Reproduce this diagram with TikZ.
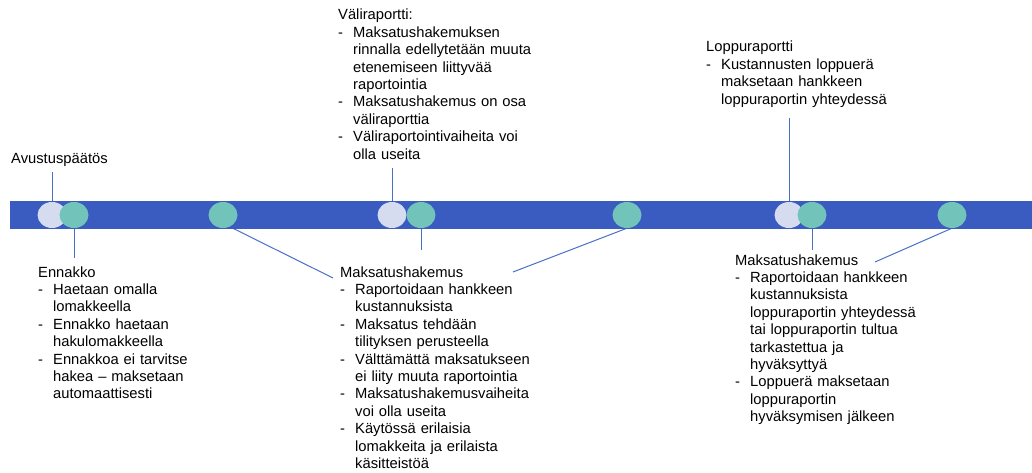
\documentclass[tikz,border=0pt]{standalone}
\usepackage{fontspec}
\setmainfont{Liberation Sans}
\usepackage{tikz}
\usetikzlibrary{shapes.geometric,positioning,backgrounds}
\definecolor{bandblue}{RGB}{58,91,192}
\definecolor{dotgreen}{RGB}{114,196,186}
\definecolor{dotlight}{RGB}{213,220,240}
\definecolor{linkblue}{RGB}{72,112,200}

% luettelon rivi: viiva ja riippuva sisennys
\newcommand{\itm}{\par\hangindent=15pt\hangafter=1\noindent\makebox[15pt][l]{-}}

\tikzset{
  dot/.style={ellipse, minimum width=29pt, minimum height=26pt, inner sep=0pt},
  lightdot/.style={dot, fill=dotlight},
  greendot/.style={dot, fill=dotgreen},
  txt/.style={anchor=base west, inner sep=0pt, text width=250pt, align=left,
    font=\fontsize{14.75}{17.4}\selectfont},
  link/.style={linkblue, line width=1pt}
}

\begin{document}
\begin{tikzpicture}[x=1pt, y=-1pt]
  \useasboundingbox (0,0) rectangle (1032,473);
  % Pallot aikajanalla
  \node[lightdot] (avu) at (52,215) {};
  \node[greendot] (enn) at (74,215) {};
  \node[greendot] (mh1) at (223,215) {};
  \node[lightdot] (vali) at (392,215) {};
  \node[greendot] (mh2) at (421,215) {};
  \node[greendot] (mh3) at (627,215) {};
  \node[lightdot] (lop) at (789,215) {};
  \node[greendot] (mh4) at (812,215) {};
  \node[greendot] (mh5) at (952,215) {};
  % Tekstit
  \node[txt] (avutxt) at (11,164) {Avustuspäätös};
  \node[txt] (enntxt) at (38,277) {Ennakko
    \itm Haetaan omalla\newline lomakkeella
    \itm Ennakko haetaan\newline hakulomakkeella
    \itm Ennakkoa ei tarvitse\newline hakea – maksetaan\newline automaattisesti\par};
  \node[txt] (valitxt) at (338,20) {Väliraportti:
    \itm Maksatushakemuksen\newline rinnalla edellytetään muuta\newline etenemiseen liittyvää\newline raportointia
    \itm Maksatushakemus on osa\newline väliraporttia
    \itm Väliraportointivaiheita voi\newline olla useita\par};
  \node[txt] (mhtxt) at (340,277) {Maksatushakemus
    \itm Raportoidaan hankkeen\newline kustannuksista
    \itm Maksatus tehdään\newline tilityksen perusteella
    \itm Välttämättä maksatukseen\newline ei liity muuta raportointia
    \itm Maksatushakemusvaiheita\newline voi olla useita
    \itm Käytössä erilaisia\newline lomakkeita ja erilaista\newline käsitteistöä\par};
  \node[txt] (loptxt) at (706,52) {Loppuraportti
    \itm Kustannusten loppuerä\newline maksetaan hankkeen\newline loppuraportin yhteydessä\par};
  \node[txt] (mhlast) at (735,265) {Maksatushakemus
    \itm Raportoidaan hankkeen\newline kustannuksista\newline loppuraportin yhteydessä\newline tai loppuraportin tultua\newline tarkastettua ja\newline hyväksyttyä
    \itm Loppuerä maksetaan\newline loppuraportin\newline hyväksymisen jälkeen\par};
  % Viivojen vapaat päät
  \coordinate (avuend) at (52,172);
  \coordinate (ennend) at (74,258);
  \coordinate (valiend) at (392,168);
  \coordinate (mh1end) at (333,278);
  \coordinate (mh2end) at (421,250);
  \coordinate (mh3end) at (513,272);
  \coordinate (lopend) at (789,118);
  \coordinate (mh4end) at (812,250);
  \coordinate (mh5end) at (875,262);
  \begin{pgfonlayer}{background}
    % Yhdysviivat
    \draw[link] (avuend) -- (avu);
    \draw[link] (enn) -- (ennend);
    \draw[link] (mh1.-60) -- (mh1end);
    \draw[link] (valiend) -- (vali);
    \draw[link] (mh2) -- (mh2end);
    \draw[link] (mh3.south) -- (mh3end);
    \draw[link] (lopend) -- (lop);
    \draw[link] (mh4) -- (mh4end);
    \draw[link] (mh5.south) -- (mh5end);
    % Aikajana
    \fill[bandblue] (10,201) rectangle (1032,229);
  \end{pgfonlayer}
\end{tikzpicture}
\end{document}
